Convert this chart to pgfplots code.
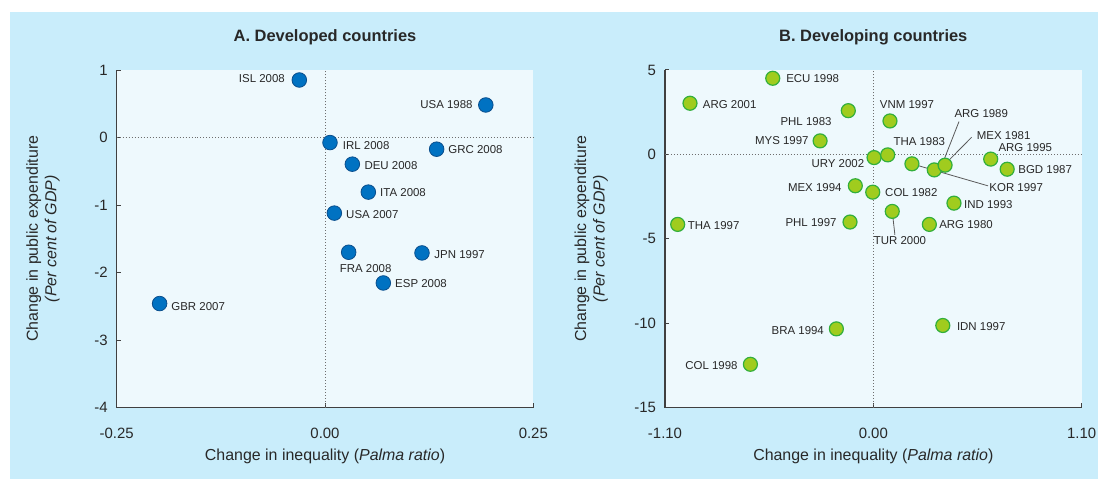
\documentclass[border=0pt]{standalone}
\usepackage{fontspec}
\setmainfont{Liberation Sans}
\usepackage{pgfplots}
\pgfplotsset{compat=1.18}
\definecolor{outerbg}{RGB}{201,237,251}
\definecolor{plotbg}{RGB}{238,249,253}
\definecolor{axisc}{RGB}{64,64,64}
\definecolor{bluefill}{RGB}{0,114,194}
\definecolor{blueedge}{RGB}{10,78,140}
\definecolor{greenfill}{RGB}{160,204,30}
\definecolor{greenedge}{RGB}{50,175,60}
\definecolor{txt}{RGB}{40,40,40}
\definecolor{zeroc}{RGB}{110,110,110}
\definecolor{leadc}{RGB}{90,90,90}

\newcommand{\lab}[6]{\node[anchor=#1, inner sep=0pt, font=\fontsize{11.5}{13}\selectfont, text=txt, xshift=#4bp, yshift=#5bp] at (axis cs:#2,#3) {#6};}

\pgfplotsset{
 panel/.style={
  scale only axis, width=416.6bp, height=337.5bp,
  axis lines=left, axis line style={-, draw=axisc, line width=1.4bp},
  axis background/.style={fill=plotbg},
  tick align=inside, major tick length=4bp, tick style={draw=axisc, line width=1bp},
  clip=false,
  /pgf/number format/assume math mode=true,
  ticklabel style={font=\fontsize{15}{18}\selectfont, text=txt},
  xticklabel style={yshift=-17bp},
  yticklabel style={xshift=-5.5bp},
  xlabel style={at={(axis description cs:0.5,0)}, anchor=center, yshift=-48.5bp, font=\fontsize{16}{19}\selectfont, text=txt},
  ylabel style={at={(axis description cs:-0.177,0.5)}, anchor=center, align=center, font=\fontsize{16}{18.5}\selectfont, text=txt},
  title style={at={(axis description cs:0.5,1)}, anchor=center, yshift=26.5bp, font=\fontsize{16.5}{19}\selectfont\bfseries, text=txt},
  xlabel={Change in inequality (\textit{Palma ratio})},
  ylabel={Change in public expenditure\\\textit{(Per cent of GDP)}},
 }
}

\begin{document}
\begin{tikzpicture}
\fill[white] (0,0) rectangle (1098bp,479bp);
\path[use as bounding box] (0,0) rectangle (1098bp,479bp);
\fill[outerbg] (10bp,0) rectangle (1098bp,467bp);

% ---------------- Panel A ----------------
\begin{axis}[panel, at={(116.7bp,71.5bp)}, anchor=south west,
  title={A. Developed countries},
  xmin=-0.25, xmax=0.25, ymin=-4, ymax=1,
  xtick={-0.25,0,0.25}, ytick={-4,-3,-2,-1,0,1},
  xticklabel style={/pgf/number format/fixed, /pgf/number format/fixed zerofill, /pgf/number format/precision=2},
]
\draw[dotted, zeroc, line width=1bp] (axis cs:0,-4) -- (axis cs:0,1);
\draw[dotted, zeroc, line width=1bp] (axis cs:-0.25,0) -- (axis cs:0.25,0);
\addplot[only marks, mark=*, mark size=7.3bp, mark options={fill=bluefill, draw=blueedge, line width=0.8bp}] table {
x y
-0.0308 0.852
0.193 0.482
0.006 -0.075
0.134 -0.173
0.0328 -0.395
0.052 -0.809
0.0112 -1.12
0.0284 -1.70
0.1164 -1.71
0.070 -2.155
-0.1985 -2.46
};
\lab{east}{-0.0308}{0.852}{-14.3}{1}{ISL 2008}
\lab{east}{0.193}{0.482}{-13}{0}{USA 1988}
\lab{west}{0.006}{-0.075}{12.7}{-3.3}{IRL 2008}
\lab{west}{0.134}{-0.173}{11.6}{-0.7}{GRC 2008}
\lab{west}{0.0328}{-0.395}{12}{-1}{DEU 2008}
\lab{west}{0.052}{-0.809}{11.7}{0}{ITA 2008}
\lab{west}{0.0112}{-1.12}{11.7}{-1}{USA 2007}
\lab{center}{0.0284}{-1.70}{17}{-16.3}{FRA 2008}
\lab{west}{0.1164}{-1.71}{12.3}{-1.7}{JPN 1997}
\lab{west}{0.070}{-2.155}{11.7}{-1}{ESP 2008}
\lab{west}{-0.1985}{-2.46}{11.6}{-3.3}{GBR 2007}
\end{axis}

% ---------------- Panel B ----------------
\begin{axis}[panel, at={(665bp,71.5bp)}, anchor=south west,
  title={B. Developing countries},
  xmin=-1.1, xmax=1.1, ymin=-15, ymax=5,
  xtick={-1.1,0,1.1}, ytick={-15,-10,-5,0,5},
  xticklabel style={/pgf/number format/fixed, /pgf/number format/fixed zerofill, /pgf/number format/precision=2},
]
\draw[dotted, zeroc, line width=1bp] (axis cs:0,-15) -- (axis cs:0,5);
\draw[dotted, zeroc, line width=1bp] (axis cs:-1.1,0) -- (axis cs:1.1,0);
\addplot[only marks, mark=*, mark size=7bp, mark options={fill=greenfill, draw=greenedge, line width=1.2bp}] table {
x y
-0.531 4.51
-0.968 3.03
-0.132 2.59
0.088 1.98
-0.281 0.80
0.004 -0.19
0.076 -0.03
0.204 -0.56
0.322 -0.92
0.379 -0.64
0.620 -0.28
0.707 -0.88
-0.095 -1.86
-0.003 -2.24
0.426 -2.89
0.100 -3.38
-1.033 -4.15
-0.123 -4.01
0.296 -4.15
-0.195 -10.34
0.367 -10.14
-0.649 -12.44
};
\draw[leadc, line width=0.8bp] (axis cs:0.4524,1.941) -- (axis cs:0.3696,-0.426);
\draw[leadc, line width=0.8bp] (axis cs:0.5195,1.018) -- (axis cs:0.396,-0.385);
\draw[leadc, line width=0.8bp] (axis cs:0.204,-0.56) -- (axis cs:0.6056,-1.864);
\draw[leadc, line width=0.8bp] (axis cs:0.100,-3.38) -- (axis cs:0.114,-4.763);
\lab{west}{-0.531}{4.51}{13.3}{-0.7}{ECU 1998}
\lab{west}{-0.968}{3.03}{12.7}{-1.7}{ARG 2001}
\lab{east}{-0.132}{2.59}{-16.6}{-11}{PHL 1983}
\lab{center}{0.088}{1.98}{17}{16.7}{VNM 1997}
\lab{east}{-0.281}{0.80}{-11.3}{0}{MYS 1997}
\lab{east}{0.004}{-0.19}{-9.7}{-6.3}{URY 2002}
\lab{west}{0.076}{-0.03}{5.6}{13.3}{THA 1983}
\lab{west}{0.4277}{2.396}{0}{0}{ARG 1989}
\lab{west}{0.546}{1.095}{0}{0}{MEX 1981}
\lab{west}{0.6125}{-1.964}{0}{0}{KOR 1997}
\lab{north}{0.141}{-4.882}{0}{0}{TUR 2000}
\lab{west}{0.620}{-0.28}{7.6}{12}{ARG 1995}
\lab{west}{0.707}{-0.88}{11}{0}{BGD 1987}
\lab{east}{-0.095}{-1.86}{-13.6}{-1.7}{MEX 1994}
\lab{west}{-0.003}{-2.24}{12.3}{0}{COL 1982}
\lab{west}{0.426}{-2.89}{10}{-1}{IND 1993}
\lab{west}{0.296}{-4.15}{9.7}{0}{ARG 1980}
\lab{east}{-0.123}{-4.01}{-13.3}{-1}{PHL 1997}
\lab{west}{-1.033}{-4.15}{10}{-1}{THA 1997}
\lab{east}{-0.195}{-10.34}{-12.3}{-2}{BRA 1994}
\lab{west}{0.367}{-10.14}{14}{-1}{IDN 1997}
\lab{east}{-0.649}{-12.44}{-12.6}{-1.4}{COL 1998}
\end{axis}
\end{tikzpicture}
\end{document}
